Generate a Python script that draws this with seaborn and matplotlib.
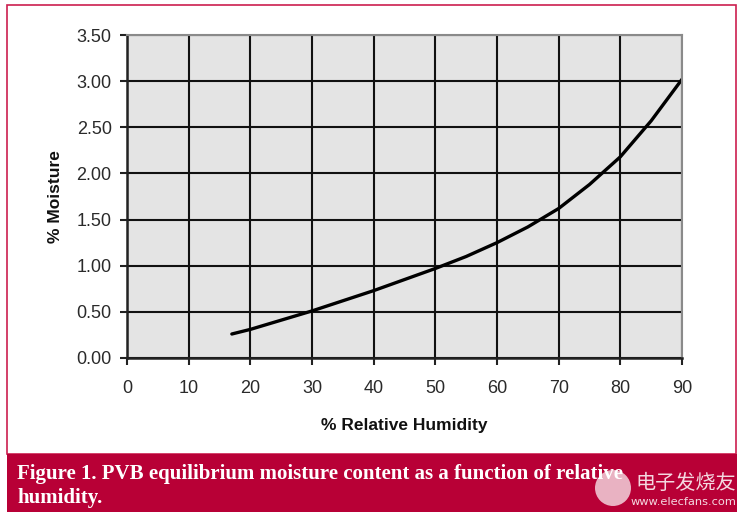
import matplotlib
matplotlib.use('Agg')
import matplotlib.pyplot as plt
import seaborn as sns
import pandas as pd
from matplotlib.patches import Rectangle, Ellipse

# dados
humidity = [17, 20, 25, 30, 35, 40, 45, 50, 55, 60, 65, 70, 75, 80, 85, 90]
moisture = [0.26, 0.31, 0.41, 0.51, 0.62, 0.73, 0.85, 0.97, 1.10, 1.25,
            1.42, 1.62, 1.88, 2.18, 2.57, 3.02]
x_ticks = [0, 10, 20, 30, 40, 50, 60, 70, 80, 90]
y_ticks = [0.0, 0.5, 1.0, 1.5, 2.0, 2.5, 3.0, 3.5]
caption_lines = ['Figure 1. PVB equilibrium moisture content as a function of relative',
                 'humidity.']

df = pd.DataFrame({'rh': humidity, 'moist': moisture})

sns.set_style('white', rc={'axes.facecolor': '#e4e4e4'})
plt.rcParams['font.family'] = ['Liberation Sans', 'DejaVu Sans']

fig = plt.figure(figsize=(7.42, 5.18), dpi=100)
ax = fig.add_axes([127 / 742, 1 - 358 / 518, 555 / 742, 323 / 518])

sns.lineplot(data=df, x='rh', y='moist', color='black', lw=2.4, ax=ax)

ax.set_xlim(0, 90)
ax.set_ylim(0, 3.5)
ax.set_xticks(x_ticks)
ax.set_xticklabels([str(t) for t in x_ticks])
ax.set_yticks(y_ticks)
ax.set_yticklabels([f'{t:.2f}' for t in y_ticks])
ax.grid(True, color='#111111', lw=1.5)
ax.set_axisbelow(True)

for s in ['left', 'bottom']:
    ax.spines[s].set_color('#222222')
    ax.spines[s].set_linewidth(1.8)
for s in ['top', 'right']:
    ax.spines[s].set_color('#8a8a8a')
    ax.spines[s].set_linewidth(1.5)

ax.tick_params(axis='both', direction='out', length=5, width=1.5, color='#222222',
               labelsize=13, labelcolor='#2a2a2a', bottom=True, left=True)
ax.tick_params(axis='x', pad=11)
ax.tick_params(axis='y', pad=6)

ax.set_xlabel('% Relative Humidity', fontsize=12.5, fontweight='bold', color='#111111', labelpad=15)
ax.set_ylabel('% Moisture', fontsize=12.5, fontweight='bold', color='#111111', labelpad=10)

# moldura e faixa da legenda
fig.patches.append(Rectangle((7 / 742, 1 - 454 / 518), 729 / 742, 449 / 518,
                             transform=fig.transFigure, fill=False,
                             edgecolor='#cc1f4f', lw=1.2))
fig.patches.append(Rectangle((7 / 742, 1 - 512 / 518), 730 / 742, 58 / 518,
                             transform=fig.transFigure, facecolor='#b80036',
                             edgecolor='none'))
for i, line in enumerate(caption_lines):
    fig.text(17 / 742, 1 - (479 + 24 * i) / 518, line, color='white', fontsize=15.0,
             fontweight='bold', family=['Liberation Serif', 'DejaVu Serif'],
             va='baseline', ha='left')

# marca d'agua
fig.patches.append(Ellipse((613 / 742, 1 - 488 / 518), 36 / 742, 36 / 518,
                           transform=fig.transFigure, facecolor='white', alpha=0.7,
                           edgecolor='none'))
fig.text(686 / 742, 1 - 483 / 518, '电子发烧友', color='white', alpha=0.85, fontsize=14.5,
         family=['Noto Sans CJK SC', 'DejaVu Sans'], ha='center', va='center')
fig.text(683 / 742, 1 - 502 / 518, 'www.elecfans.com', color='white', alpha=0.85, fontsize=8.2,
         family=['DejaVu Sans'], ha='center', va='center')

fig.savefig('out.png', dpi=100)
